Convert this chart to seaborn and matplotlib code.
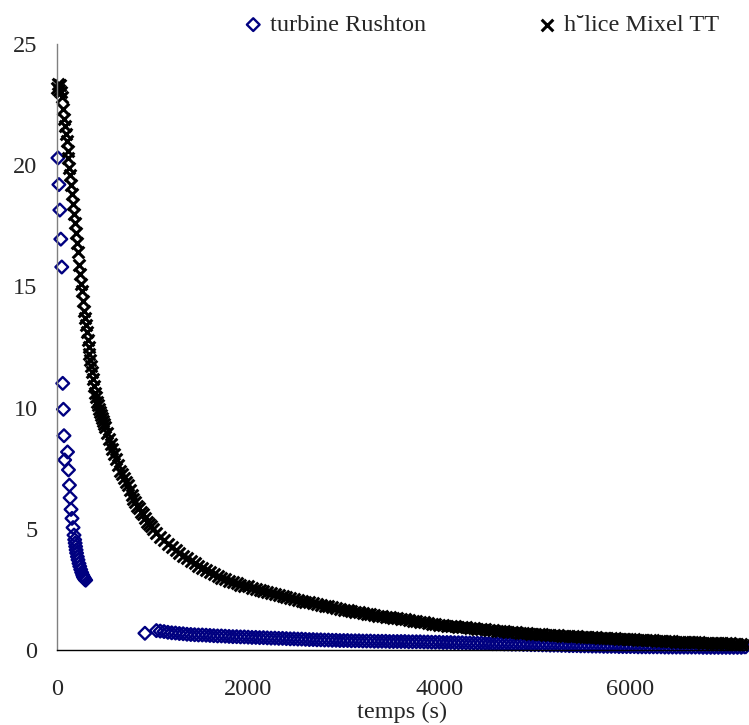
import pandas as pd
import matplotlib
matplotlib.use("Agg")
import matplotlib.pyplot as plt
import seaborn as sns

# turbine Rushton (blue diamonds), first phase
rushton_t = [10, 20, 30, 40, 50, 60, 67, 73, 80, 110, 120, 130, 137, 147, 157, 168, 178,
             185, 190, 195, 200, 205, 213, 220, 230, 238, 248, 258, 268, 275, 280, 285,
             293, 300, 920]
rushton_v = [20.3, 19.2, 18.15, 16.95, 15.8, 11.0, 9.93, 8.84, 7.84, 8.17, 7.43, 6.8, 6.28,
             5.8, 5.43, 5.05, 4.74, 4.55, 4.41, 4.27, 4.13, 4.0, 3.85, 3.72, 3.57, 3.45,
             3.32, 3.2, 3.1, 3.03, 3.0, 2.96, 2.91, 2.88, 0.69]

# helice Mixel TT (black crosses), first phase
mixel_t = [0, 10, 20, 30, 40, 50, 60, 70, 80, 90, 100, 110, 120, 130, 140, 150, 160, 170,
           180, 190, 200, 210, 220, 230, 240, 250, 260, 270, 280, 290, 300, 310, 320, 330,
           340, 350, 360, 370, 380, 390, 400, 410, 420, 430, 440, 450, 460, 470, 480, 490,
           500, 520, 540, 560, 580, 600, 620, 640, 660, 680, 700, 720, 740, 760, 780, 800,
           820, 840, 860, 880, 900, 920, 940, 960, 980, 1000]
mixel_v = [23.2, 23.35, 23.1, 23.3, 23.0, 22.8, 22.3, 21.9, 21.6, 21.3, 21.0, 20.6, 20.3,
           19.9, 19.6, 19.2, 18.8, 18.4, 18.0, 17.6, 17.2, 16.8, 16.4, 15.9, 15.5, 15.1,
           14.8, 14.4, 14.0, 13.7, 13.4, 13.1, 12.8, 12.5, 12.2, 11.95, 11.7, 11.45, 11.2,
           10.9, 10.6, 10.45, 10.25, 10.1, 9.95, 9.82, 9.7, 9.57, 9.45, 9.32,
           9.2, 8.95, 8.7, 8.5, 8.3, 8.1, 7.9, 7.65, 7.4, 7.25, 7.1, 6.95, 6.8, 6.6, 6.4,
           6.25, 6.1, 5.95, 5.85, 5.7, 5.6, 5.45, 5.3, 5.2, 5.1, 5.0]

# sampling times of the long tail (s), shared by both series
tail_t = [1040, 1080, 1120, 1160, 1200, 1240, 1280, 1320, 1360, 1400,
          1440, 1480, 1520, 1560, 1600, 1640, 1680, 1720, 1760, 1800,
          1840, 1880, 1920, 1960, 2000, 2040, 2080, 2120, 2160, 2200,
          2240, 2280, 2320, 2360, 2400, 2440, 2480, 2520, 2560, 2600,
          2640, 2680, 2720, 2760, 2800, 2840, 2880, 2920, 2960, 3000,
          3040, 3080, 3120, 3160, 3200, 3240, 3280, 3320, 3360, 3400,
          3440, 3480, 3520, 3560, 3600, 3640, 3680, 3720, 3760, 3800,
          3840, 3880, 3920, 3960, 4000, 4040, 4080, 4120, 4160, 4200,
          4240, 4280, 4320, 4360, 4400, 4440, 4480, 4520, 4560, 4600,
          4640, 4680, 4720, 4760, 4800, 4840, 4880, 4920, 4960, 5000,
          5040, 5080, 5120, 5160, 5200, 5240, 5280, 5320, 5360, 5400,
          5440, 5480, 5520, 5560, 5600, 5640, 5680, 5720, 5760, 5800,
          5840, 5880, 5920, 5960, 6000, 6040, 6080, 6120, 6160, 6200,
          6240, 6280, 6320, 6360, 6400, 6440, 6480, 6520, 6560, 6600,
          6640, 6680, 6720, 6760, 6800, 6840, 6880, 6920, 6960, 7000,
          7040, 7080, 7120, 7160, 7200]

mixel_tail = [4.84, 4.68, 4.53, 4.39, 4.25, 4.13, 4.01, 3.89, 3.79, 3.68,
              3.58, 3.47, 3.38, 3.29, 3.20, 3.12, 3.04, 2.97, 2.91, 2.85,
              2.80, 2.75, 2.70, 2.66, 2.62, 2.57, 2.52, 2.48, 2.43, 2.38,
              2.34, 2.30, 2.26, 2.22, 2.18, 2.14, 2.11, 2.07, 2.04, 2.00,
              1.97, 1.93, 1.90, 1.86, 1.83, 1.80, 1.76, 1.73, 1.69, 1.66,
              1.63, 1.60, 1.58, 1.55, 1.52, 1.50, 1.47, 1.45, 1.42, 1.40,
              1.38, 1.35, 1.33, 1.30, 1.28, 1.26, 1.23, 1.21, 1.18, 1.16,
              1.14, 1.12, 1.09, 1.07, 1.05, 1.03, 1.01, 1.00, 0.98, 0.96,
              0.94, 0.93, 0.91, 0.90, 0.88, 0.86, 0.85, 0.83, 0.82, 0.80,
              0.79, 0.77, 0.76, 0.74, 0.73, 0.72, 0.70, 0.69, 0.68, 0.67,
              0.66, 0.64, 0.63, 0.62, 0.61, 0.60, 0.59, 0.59, 0.58, 0.57,
              0.56, 0.55, 0.54, 0.54, 0.53, 0.52, 0.51, 0.50, 0.50, 0.49,
              0.48, 0.47, 0.46, 0.46, 0.45, 0.44, 0.43, 0.42, 0.42, 0.41,
              0.40, 0.39, 0.38, 0.38, 0.37, 0.36, 0.35, 0.34, 0.34, 0.33,
              0.32, 0.32, 0.31, 0.30, 0.30, 0.29, 0.29, 0.28, 0.28, 0.27,
              0.27, 0.26, 0.26, 0.25, 0.25]

rushton_tail = [0.80, 0.78, 0.76, 0.73, 0.71, 0.70, 0.68, 0.67, 0.65, 0.64,
                0.63, 0.62, 0.62, 0.61, 0.60, 0.59, 0.58, 0.58, 0.57, 0.56,
                0.55, 0.55, 0.54, 0.54, 0.53, 0.52, 0.52, 0.51, 0.51, 0.50,
                0.49, 0.49, 0.48, 0.48, 0.47, 0.46, 0.46, 0.45, 0.45, 0.44,
                0.43, 0.43, 0.42, 0.42, 0.41, 0.41, 0.40, 0.40, 0.39, 0.39,
                0.39, 0.38, 0.38, 0.38, 0.37, 0.37, 0.37, 0.36, 0.36, 0.36,
                0.36, 0.35, 0.35, 0.35, 0.35, 0.35, 0.34, 0.34, 0.34, 0.34,
                0.33, 0.33, 0.32, 0.32, 0.32, 0.31, 0.31, 0.31, 0.30, 0.30,
                0.30, 0.29, 0.29, 0.28, 0.28, 0.28, 0.27, 0.27, 0.26, 0.26,
                0.26, 0.25, 0.25, 0.24, 0.24, 0.24, 0.23, 0.23, 0.22, 0.22,
                0.22, 0.21, 0.21, 0.20, 0.20, 0.20, 0.19, 0.19, 0.18, 0.18,
                0.18, 0.17, 0.17, 0.17, 0.16, 0.16, 0.16, 0.15, 0.15, 0.15,
                0.15, 0.14, 0.14, 0.14, 0.14, 0.14, 0.13, 0.13, 0.13, 0.13,
                0.13, 0.13, 0.13, 0.12, 0.12, 0.12, 0.12, 0.12, 0.12, 0.12,
                0.12, 0.12, 0.12, 0.11, 0.11, 0.11, 0.11, 0.11, 0.11, 0.11,
                0.11, 0.11, 0.11, 0.11, 0.11]

x_ticks = [0, 2000, 4000, 6000]
y_ticks = [0, 5, 10, 15, 20, 25]

sns.set_style("white")
plt.rcParams["font.family"] = ["Liberation Serif", "DejaVu Serif"]

df_r = pd.DataFrame({"t": rushton_t + tail_t, "v": rushton_v + rushton_tail})
df_m = pd.DataFrame({"t": mixel_t + tail_t, "v": mixel_v + mixel_tail})

fig = plt.figure(figsize=(7.49, 7.25), dpi=100)
ax = fig.add_axes([57 / 749, 75 / 725, 690 / 749, 606 / 725])

sns.scatterplot(data=df_r, x="t", y="v", ax=ax, marker="D", s=42, facecolor="none",
                edgecolor="#000080", linewidth=1.7, label="turbine Rushton", clip_on=False)
sns.scatterplot(data=df_m, x="t", y="v", ax=ax, marker="x", s=70, color="black",
                linewidth=2.2, label="h˘lice Mixel TT", clip_on=False)

ax.set_xlim(0, 7220)
ax.set_ylim(0, 25)
ax.set_xticks(x_ticks)
ax.set_yticks(y_ticks)
ax.set_xlabel("temps (s)", fontsize=17.5, labelpad=1)
ax.set_ylabel("")
ax.tick_params(axis="both", labelsize=17.5, length=5, width=1, direction="out")
ax.tick_params(axis="y", color="#808080", pad=9)
ax.tick_params(axis="x", color="black", pad=16)

for side in ["top", "right"]:
    ax.spines[side].set_visible(False)
ax.spines["left"].set_color("#808080")
ax.spines["bottom"].set_color("black")
ax.spines["left"].set_linewidth(1)
ax.spines["bottom"].set_linewidth(1)

handles, labels = ax.get_legend_handles_labels()
ax.get_legend().remove()
fig.legend(handles, labels, loc="center", bbox_to_anchor=(483 / 749, 1 - 25 / 725),
           ncol=2, frameon=False, fontsize=17.5, handlelength=0.5, handletextpad=0.45,
           columnspacing=4.7)

fig.savefig("out.png", dpi=100)
